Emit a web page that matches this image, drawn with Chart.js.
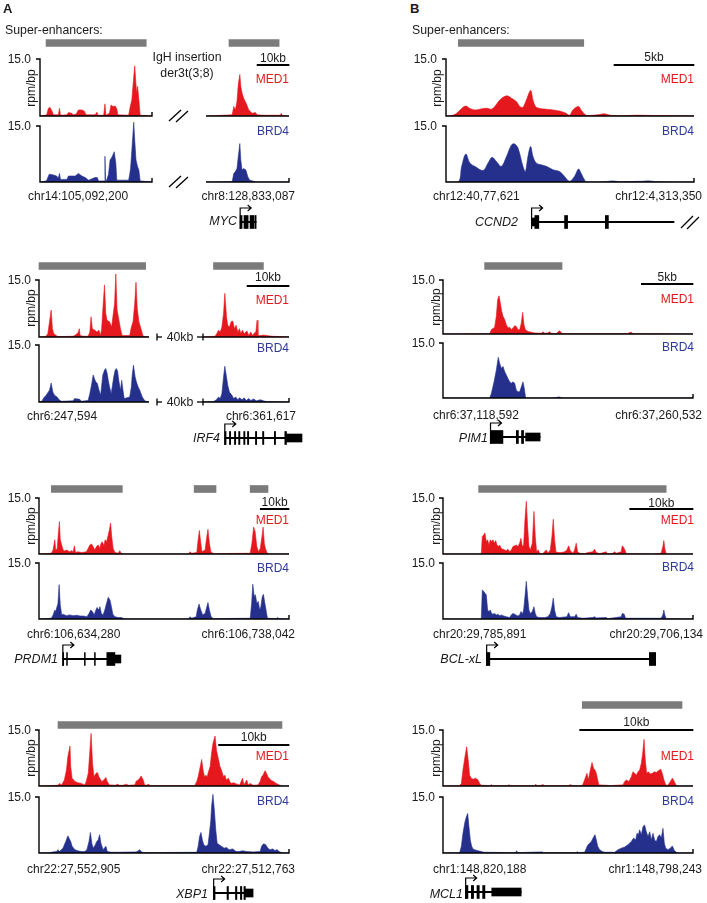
<!DOCTYPE html>
<html><head><meta charset="utf-8"><title>MED1 / BRD4 super-enhancer tracks</title>
<script src="https://cdn.jsdelivr.net/npm/chart.js@4.4.1/dist/chart.umd.min.js"></script>
<style>
html,body{margin:0;padding:0;background:#fff;width:707px;height:903px;overflow:hidden}
#fig{position:relative;width:707px;height:903px;overflow:hidden;font-family:Arial,"Liberation Sans",Helvetica,sans-serif;color:#1a1a1a}
#fig canvas{position:absolute;display:block}
.t{position:absolute;white-space:nowrap;line-height:1}
#fig svg{position:absolute;left:0;top:0}
</style></head><body><div id="fig"></div>
<script>
// ================= DATA =================
const trackMax = 15.0;
const yTickLabel = '15.0';
const yUnit = 'rpm/bp';
const seriesNames = ['MED1', 'BRD4'];
const panelLetters = ['A', 'B'];
const seLabel = 'Super-enhancers:';
const insertionLabel = ['IgH insertion', 'der3t(3;8)'];
const gapLabel = '40kb';
const chrLabels = [
  ['chr14:105,092,200', 'chr8:128,833,087'],
  ['chr6:247,594', 'chr6:361,617'],
  ['chr6:106,634,280', 'chr6:106,738,042'],
  ['chr22:27,552,905', 'chr22:27,512,763'],
  ['chr12:40,77,621', 'chr12:4,313,350'],
  ['chr6:37,118,592', 'chr6:37,260,532'],
  ['chr20:29,785,891', 'chr20:29,706,134'],
  ['chr1:148,820,188', 'chr1:148,798,243']
];
const geneNames = ['MYC', 'IRF4', 'PRDM1', 'XBP1', 'CCND2', 'PIM1', 'BCL-xL', 'MCL1'];
const scaleBarKb = [10, 10, 10, 10, 5, 5, 10, 10];

// window spans (kb) of each displayed segment
const mycSpans = [35, 26];
const irf4Spans = [26.2, 20.5];
const prdm1Span = 87;
const xbp1Span = 35.5;
const ccnd2Span = 15.5;
const pim1Span = 24.2;
const bclSpan = 39.5;
const mcl1Span = 22.06;

// ---- signal profiles: [position kb, rpm/bp] ----
const mycMed1L = [[0,0],[2.1,0.3],[2.6,2.0],[3.1,2.3],[3.7,1.4],[4.2,0.3],[5.7,0.3],[6.1,2.0],[6.4,0.2],[8.4,0.3],[8.9,0.9],[9.9,0.7],[10.4,0.3],[11.3,0.5],[12.0,1.6],[13.1,1.6],[13.8,1.3],[14.4,0.3],[17.2,0.3],[17.8,1.0],[18.1,0.2],[19.9,0.2],[20.3,3.2],[20.6,0.2],[21.7,0.7],[22.2,2.9],[22.8,2.5],[23.5,2.6],[24.0,1.9],[24.3,0.3],[27.7,0.2],[28.2,2.5],[28.7,4.2],[29.2,9.5],[29.6,13.2],[29.9,9.5],[30.2,6.0],[30.5,7.8],[30.9,4.2],[31.3,0.2],[35,0]];
const mycBrd4L = [[0,0],[2.0,0.3],[2.9,2.1],[4.2,1.9],[5.2,1.6],[5.7,1.0],[6.1,2.3],[6.4,0.7],[6.8,0.7],[8.4,0.7],[8.9,1.6],[11.0,1.6],[12.0,2.3],[13.1,1.6],[14.1,1.2],[15.2,0.5],[17.2,1.2],[17.9,1.2],[18.3,0.3],[20.1,0.3],[20.3,6.9],[20.5,0.3],[20.7,0.2],[21.4,2.0],[21.9,5.9],[22.5,6.7],[23.2,8.1],[23.7,5.0],[24.0,0.5],[27.7,0.5],[28.0,1.9],[28.3,3.6],[28.7,8.5],[29.3,16.0],[29.6,11.2],[30.0,5.9],[30.5,4.1],[30.9,3.2],[31.3,0.3],[35,0]];
const mycMed1R = [[0,0],[8.2,0.3],[8.7,2.5],[9.2,1.6],[9.7,3.8],[10.1,8.2],[10.6,10.9],[10.9,7.8],[11.3,6.0],[11.8,4.7],[12.3,3.8],[12.8,2.9],[13.4,1.6],[13.9,1.2],[14.4,0.7],[15.5,0.9],[16.0,0.3],[18.1,0.2],[23.3,0.2],[23.6,0.7],[23.9,0.1],[26,0]];
const mycBrd4R = [[0,0],[8.2,0.1],[8.7,2.3],[9.2,2.8],[9.7,3.6],[10.1,6.7],[10.6,10.3],[10.9,5.9],[11.3,3.2],[11.8,3.6],[12.5,3.2],[13.1,1.4],[13.7,0.5],[14.9,0.2],[15.5,0],[26,0]];

const irf4Med1L = [[0,0],[1.7,0.2],[2.1,0.9],[2.5,4.0],[2.9,7.1],[3.2,2.2],[3.5,0.9],[4.1,0.4],[4.5,0.1],[8.1,0.2],[8.5,0.4],[9.3,1.1],[9.6,2.2],[9.8,0.4],[10.5,0.2],[11.7,0.2],[12.1,1.3],[12.4,5.3],[12.7,2.2],[13.3,1.8],[13.8,1.3],[14.3,1.8],[14.6,0.4],[14.9,1.8],[15.2,7.1],[15.6,13.7],[15.9,6.2],[16.2,4.4],[16.8,4.0],[17.3,2.6],[17.6,5.3],[18.0,8.8],[18.3,16.6],[18.6,7.1],[18.9,5.3],[19.4,2.2],[19.8,0.4],[21.6,0.4],[22.0,2.6],[22.4,4.0],[22.8,8.8],[23.1,14.4],[23.4,7.5],[23.8,4.0],[24.4,1.8],[24.8,0.2],[26.2,0]];
const irf4Brd4L = [[0,0],[0.8,0.3],[1.0,0.9],[1.7,1.8],[2.5,3.1],[2.9,5.0],[3.3,2.6],[3.7,1.8],[4.3,1.3],[4.8,0.6],[5.3,0.2],[8.1,0.3],[8.5,0.9],[9.7,0.7],[10.1,0.2],[11.7,0.4],[12.1,2.2],[12.5,4.4],[12.9,7.1],[13.2,6.2],[13.5,5.3],[13.9,4.9],[14.3,3.1],[14.7,1.8],[14.8,3.1],[15.2,7.1],[15.6,8.4],[15.9,8.8],[16.2,7.7],[16.5,5.7],[16.8,4.0],[17.2,2.2],[17.5,4.4],[17.8,6.6],[18.1,8.2],[18.4,8.8],[18.7,8.2],[19.0,5.7],[19.4,3.1],[19.7,5.7],[20.0,3.1],[20.3,0.9],[21.6,1.3],[22.0,4.0],[22.2,7.1],[22.5,9.7],[22.9,6.6],[23.2,5.3],[23.6,4.0],[24.0,3.1],[24.6,1.3],[25.2,0.3],[26.2,0]];
const irf4Med1R = [[0,0],[2.9,0.2],[3.3,0.9],[3.7,1.8],[4.1,1.3],[4.5,2.6],[4.9,6.2],[5.2,11.5],[5.6,5.3],[5.9,3.1],[6.3,2.6],[6.7,4.0],[7.1,4.2],[7.5,2.2],[7.9,3.1],[8.3,1.3],[8.7,2.2],[9.0,0.9],[9.4,1.8],[9.8,0.9],[10.5,1.6],[10.9,0.4],[11.4,1.3],[11.8,0.4],[12.3,1.1],[12.6,1.3],[12.9,4.4],[13.1,0.4],[13.7,0.4],[14.4,0.5],[15.2,0.4],[16.4,0.2],[20.5,0]];
const irf4Brd4R = [[0,0],[2.5,0.1],[3.2,0.6],[3.7,1.3],[4.1,0.9],[4.5,2.2],[4.9,6.6],[5.2,9.4],[5.6,6.6],[5.9,4.4],[6.3,2.6],[6.9,1.8],[7.3,0.9],[7.8,1.3],[8.3,0.6],[8.7,1.1],[9.3,0.6],[9.8,1.1],[10.3,0.4],[10.9,0.9],[11.4,0.4],[12.1,0.8],[12.7,0.3],[13.7,0.6],[14.4,0.3],[15.2,0.1],[20.5,0]];

const prdm1Med1 = [[0,0],[4.3,0.2],[4.9,1.1],[5.5,3.8],[5.8,1.1],[6.3,1.3],[6.7,5.1],[7.1,8.7],[7.4,3.8],[7.9,2.4],[8.4,1.1],[9.0,0.8],[9.5,1.1],[10.7,0.6],[11.3,0.9],[11.9,0.6],[12.3,2.2],[12.7,0.4],[13.6,0.6],[14.8,0.4],[16.5,0.6],[17.1,1.5],[17.7,2.4],[18.3,2.7],[18.8,2.0],[19.4,1.1],[20.0,2.0],[20.6,2.4],[21.2,1.5],[21.5,2.7],[22.0,3.3],[22.6,2.2],[23.0,3.8],[23.5,3.3],[24.1,5.1],[24.5,6.5],[24.9,8.3],[25.3,4.7],[25.8,1.5],[26.4,0.4],[27.6,0.2],[28.1,0.9],[28.6,0.2],[29.3,0],[52.0,0],[52.6,0.6],[53.1,0.2],[54.9,0.4],[55.3,3.3],[55.8,6.3],[56.3,2.9],[56.7,0.6],[57.8,1.1],[58.4,4.7],[58.8,6.6],[59.3,2.9],[59.8,0.6],[60.7,0.1],[73.5,0.2],[74.1,2.9],[74.7,7.2],[75.2,6.0],[75.8,2.0],[76.4,0.6],[77.0,1.5],[77.6,4.7],[78.0,7.2],[78.4,2.9],[78.8,1.5],[79.3,0.4],[79.9,0],[87,0]];
const prdm1Brd4 = [[0,0],[4.3,0.2],[4.9,1.1],[5.5,2.4],[5.8,2.0],[6.6,4.2],[7.0,9.2],[7.4,3.8],[7.9,1.1],[8.4,1.3],[9.5,0.9],[10.7,1.1],[11.9,0.9],[13.1,1.0],[14.3,0.8],[15.5,0.8],[16.7,0.6],[17.4,1.5],[18.0,2.4],[18.6,2.0],[19.2,1.1],[19.8,2.4],[20.2,3.1],[20.8,2.4],[21.2,3.3],[21.7,1.5],[22.3,1.1],[22.9,2.4],[23.5,4.2],[24.1,5.8],[24.7,5.1],[25.2,3.3],[25.7,1.3],[26.4,0.6],[27.6,0.4],[28.7,0.4],[29.5,0.1],[30,0],[52.0,0],[52.6,0.6],[53.1,0.2],[54.7,0.6],[55.1,2.4],[55.7,4.0],[56.3,2.4],[57.0,1.1],[57.8,1.5],[58.4,3.3],[58.8,4.4],[59.3,2.4],[59.9,0.6],[60.7,0.1],[73.5,0.2],[74.0,4.2],[74.4,9.3],[74.9,6.0],[75.3,6.5],[75.8,4.2],[76.3,4.7],[76.8,2.4],[77.2,3.3],[77.7,6.0],[78.1,6.6],[78.6,4.2],[79.1,2.0],[79.5,0.2],[82.6,0.1],[83.1,0.4],[83.5,0.1],[87,0]];

const xbp1Med1 = [[0,0],[2.7,0.2],[2.9,0.7],[3.2,0.3],[3.6,1.6],[3.9,4.3],[4.1,7.9],[4.4,10.7],[4.5,5.2],[4.7,2.1],[5.1,1.2],[5.5,0.9],[6.0,0.7],[6.5,0.3],[6.7,1.2],[7.0,3.4],[7.2,8.8],[7.4,14.1],[7.6,6.1],[7.8,2.5],[8.1,3.4],[8.3,3.6],[8.5,2.5],[8.9,1.2],[9.2,1.6],[9.5,2.3],[9.7,1.2],[10.0,0.3],[10.8,0.2],[11.2,0.5],[11.4,0.2],[11.9,0.2],[12.4,0.5],[12.7,0.2],[13.6,0.3],[13.8,1.3],[14.1,1.6],[14.3,2.1],[14.5,2.7],[14.8,1.6],[15.0,0.3],[15.3,0.2],[15.5,0.5],[15.6,0.1],[22.1,0.1],[22.4,1.2],[22.6,2.5],[22.8,4.3],[23.1,7.1],[23.3,4.3],[23.5,2.5],[23.7,2.9],[23.9,2.5],[24.0,3.4],[24.3,5.2],[24.5,8.8],[24.7,11.4],[25.0,13.4],[25.2,9.6],[25.5,7.0],[25.7,5.2],[25.9,4.3],[26.2,2.5],[26.4,2.9],[26.6,1.6],[26.9,2.1],[27.1,1.2],[27.3,0.7],[27.6,0.9],[28.1,0.5],[28.5,0.3],[28.9,2.1],[29.1,0.3],[29.5,1.6],[29.7,0.3],[30.0,0.7],[30.4,0.2],[31.1,0.3],[31.4,1.2],[31.6,2.5],[31.8,2.9],[32.1,4.1],[32.3,3.4],[32.5,2.5],[32.9,1.6],[33.3,1.2],[33.7,0.7],[34.2,0.2],[34.5,0],[35.5,0]];
const xbp1Brd4 = [[0,0],[1.5,0.1],[2.0,0.3],[2.5,0.4],[2.7,0.9],[2.9,0.4],[3.4,1.3],[3.8,3.1],[4.1,4.6],[4.5,3.1],[4.7,1.8],[5.1,0.9],[5.5,0.6],[6.0,0.4],[6.5,0.4],[6.8,0.9],[7.1,3.1],[7.3,5.5],[7.5,2.6],[7.7,1.3],[8.0,2.2],[8.2,3.1],[8.4,3.5],[8.6,4.9],[8.8,2.6],[9.1,0.9],[9.5,1.8],[9.7,0.4],[10.3,0.2],[11.2,0.2],[13.8,0.3],[14.1,0.6],[14.3,0.9],[14.5,0.4],[14.8,0.1],[22.4,0.2],[22.6,1.8],[22.8,4.4],[23.0,5.5],[23.2,3.5],[23.4,2.2],[23.7,1.8],[24.0,2.2],[24.2,5.3],[24.4,8.8],[24.5,12.4],[24.7,15.7],[24.9,11.5],[25.1,6.2],[25.3,2.6],[25.6,2.2],[25.9,1.8],[26.3,1.3],[26.6,1.5],[27.0,0.9],[27.5,1.1],[28.0,0.4],[28.4,0.4],[28.9,0.6],[29.5,0.4],[30.4,0.3],[31.4,0.4],[31.6,1.8],[31.9,2.5],[32.2,2.2],[32.5,1.3],[32.8,0.9],[33.2,1.1],[33.5,0.7],[33.8,0.9],[34.2,0.3],[34.5,0.1],[35.5,0]];

const ccnd2Med1 = [[0,0],[0.35,0.1],[0.66,0.7],[0.98,2.0],[1.24,2.6],[1.49,2.0],[1.8,1.6],[2.12,1.8],[2.37,2.0],[2.63,2.0],[2.84,1.8],[3.05,2.5],[3.36,4.2],[3.78,5.3],[4.09,4.7],[4.4,3.8],[4.61,2.5],[4.81,2.3],[5.02,4.2],[5.29,6.7],[5.44,4.2],[5.6,2.5],[5.85,2.0],[6.27,1.8],[6.68,1.6],[7.1,1.3],[7.51,0.7],[7.72,0.2],[7.93,1.6],[8.13,2.3],[8.3,2.5],[8.44,1.6],[8.71,0.3],[8.86,0.1],[9.17,0.2],[9.59,0.4],[9.9,0.6],[10.17,0.3],[10.41,0.1],[11.24,0.1],[11.87,0.2],[13.32,0.1],[15.5,0]];
const ccnd2Brd4 = [[0,0],[0.77,0],[0.98,4.2],[1.24,7.5],[1.49,5.1],[1.8,4.2],[2.32,3.1],[2.63,5.1],[2.88,6.6],[3.15,5.5],[3.46,4.2],[3.78,6.8],[4.09,9.9],[4.29,10.2],[4.5,9.1],[4.81,4.2],[4.96,2.8],[5.12,6.8],[5.29,9.5],[5.44,6.8],[5.64,5.1],[5.95,4.6],[6.27,4.2],[6.68,3.3],[7.1,2.8],[7.41,1.5],[7.72,0.2],[8.03,1.5],[8.28,3.5],[8.44,2.4],[8.71,0.2],[8.86,0],[10.0,0.1],[10.41,0.3],[10.83,0.1],[12.28,0.2],[12.7,0.3],[13.11,0.1],[15.5,0]];

const pim1Med1 = [[0,0],[4.52,0.1],[4.68,1.2],[5.0,1.9],[5.16,4.9],[5.29,9.5],[5.42,10.6],[5.55,8.6],[5.68,6.3],[5.81,4.9],[5.97,4.0],[6.13,2.6],[6.29,1.7],[6.45,1.9],[6.61,1.2],[6.77,1.7],[6.94,2.3],[7.1,2.1],[7.26,1.2],[7.42,1.2],[7.58,3.0],[7.71,6.0],[7.84,2.6],[7.97,1.2],[8.23,0.7],[8.55,0.5],[8.87,0.3],[9.52,0.2],[9.68,0.6],[9.84,0.2],[10.16,0.3],[10.32,0.6],[10.48,0.2],[10.97,0.1],[11.13,0.6],[11.29,0.9],[11.48,0.3],[11.61,0.1],[17.9,0.1],[18.06,0.4],[18.23,0.5],[18.39,0.1],[24.2,0]];
const pim1Brd4 = [[0,0],[4.52,0],[4.68,1.2],[4.94,4.4],[5.16,7.6],[5.35,11.1],[5.48,9.5],[5.65,8.1],[5.81,8.6],[5.97,7.2],[6.13,6.3],[6.29,5.3],[6.45,4.4],[6.61,4.0],[6.77,4.4],[6.94,4.0],[7.1,2.1],[7.26,1.7],[7.42,1.7],[7.58,3.0],[7.74,4.4],[7.87,2.6],[8.0,0],[10.48,0],[10.97,0.1],[11.19,0.3],[11.48,0.1],[11.61,0],[24.2,0]];

const bclMed1 = [[0,0],[6.05,0],[6.21,4.7],[6.42,5.1],[6.63,5.6],[6.84,3.3],[7.05,3.8],[7.26,2.4],[7.47,3.8],[7.68,3.3],[7.89,3.8],[8.11,2.9],[8.32,3.6],[8.53,2.4],[8.74,2.0],[8.95,2.4],[9.21,1.5],[9.47,1.3],[9.74,1.1],[10.0,0.9],[10.26,1.3],[10.53,0.6],[10.79,1.1],[11.05,2.0],[11.32,2.2],[11.58,2.4],[11.84,2.0],[12.11,2.9],[12.32,4.2],[12.53,2.0],[12.74,2.4],[12.95,9.2],[13.16,14.1],[13.37,7.4],[13.58,2.0],[13.79,1.1],[14.11,2.9],[14.37,11.4],[14.58,4.7],[14.79,0.6],[15.05,1.1],[15.26,0.2],[15.68,0],[16.05,0.6],[16.32,1.1],[16.58,0.2],[16.95,1.1],[17.21,4.7],[17.42,9.3],[17.63,3.8],[17.84,0.6],[18.16,0.4],[18.68,0.4],[19.21,0.6],[19.58,1.1],[19.84,2.2],[20.11,0.9],[20.53,0.2],[20.79,1.1],[21.05,2.9],[21.26,0.6],[21.58,0.2],[22.37,0.1],[22.89,0.4],[23.68,0.6],[23.95,1.3],[24.21,0.4],[24.74,0.1],[25.79,0.6],[25.95,0],[26.84,0.2],[27.11,0.6],[27.37,0.2],[28.16,0.6],[28.32,2.2],[28.53,1.8],[28.74,1.1],[28.95,0.1],[33.16,0],[34.47,0.2],[34.74,2.0],[34.89,3.6],[35.05,1.5],[35.26,0],[39.5,0]];
const bclBrd4 = [[0,0],[6.05,0],[6.21,7.8],[6.42,7.4],[6.63,6.9],[6.84,6.5],[7.05,2.4],[7.26,2.0],[7.47,2.4],[7.68,1.5],[7.89,1.3],[8.16,1.5],[8.42,1.1],[8.68,1.3],[8.95,0.9],[9.21,1.1],[9.47,0.9],[10.0,0.6],[10.53,0.4],[10.79,1.1],[11.05,1.5],[11.32,1.3],[11.58,1.0],[11.84,0.8],[12.11,1.1],[12.32,2.0],[12.53,1.3],[12.74,2.4],[12.95,6.0],[13.16,10.1],[13.37,6.0],[13.58,2.4],[13.79,1.5],[14.11,2.0],[14.37,3.3],[14.58,1.5],[14.79,0.6],[15.26,0.4],[16.05,0.4],[16.58,0.6],[16.95,1.5],[17.21,3.3],[17.42,5.6],[17.63,2.4],[17.89,0.6],[18.42,0.4],[19.58,0.6],[19.84,1.7],[20.11,0.6],[20.79,0.6],[21.05,1.3],[21.26,0.4],[22.11,0.2],[23.68,0.4],[23.95,0.6],[24.21,0.3],[25.79,0.4],[26.05,0.1],[28.16,0.6],[28.32,1.5],[28.63,1.3],[28.84,0.2],[34.47,0.2],[34.74,1.1],[34.89,2.4],[35.05,1.1],[35.26,0.1],[39.5,0]];

const mcl1Med1 = [[0,0],[1.47,0.1],[1.62,0.7],[1.76,4.3],[1.94,7.9],[2.09,10.5],[2.24,6.5],[2.35,2.9],[2.5,2.1],[2.65,1.8],[2.88,2.1],[3.09,1.6],[3.24,0.7],[3.38,0.2],[4.18,0.1],[4.26,0.4],[4.35,0.1],[5.74,0.1],[5.82,0.4],[5.91,0.1],[8.09,0.1],[8.18,0.5],[8.29,0.1],[8.68,0.2],[8.82,0.4],[8.97,0.1],[11.12,0.1],[11.21,0.4],[11.29,0.1],[12.29,0.1],[12.44,1.2],[12.59,2.5],[12.71,3.4],[12.82,1.6],[13.0,4.3],[13.15,6.3],[13.29,4.7],[13.41,4.3],[13.53,3.4],[13.65,1.6],[13.76,0.3],[14.41,0.2],[14.71,0.1],[15.88,0.3],[16.03,1.2],[16.18,1.6],[16.41,1.2],[16.62,2.5],[16.76,3.8],[16.91,3.4],[17.06,2.9],[17.21,3.8],[17.35,4.3],[17.5,6.1],[17.62,8.8],[17.74,12.5],[17.85,7.0],[17.97,3.4],[18.12,3.8],[18.29,3.2],[18.47,3.4],[18.65,3.8],[18.82,3.6],[19.0,4.1],[19.21,4.5],[19.35,3.4],[19.5,1.6],[19.65,0.3],[19.85,0.2],[20.06,1.2],[20.24,2.1],[20.41,1.2],[20.59,0.1],[20.74,0],[22.06,0]];
const mcl1Brd4 = [[0,0],[1.47,0.1],[1.62,1.8],[1.76,5.3],[1.94,8.4],[2.06,9.7],[2.18,10.6],[2.29,7.1],[2.41,3.5],[2.53,1.8],[2.65,1.1],[2.79,0.9],[3.09,0.6],[3.38,0.4],[3.59,0.2],[6.41,0.1],[6.5,0.6],[6.59,0.1],[8.76,0.3],[8.85,0.1],[11.76,0.1],[11.85,0.4],[11.94,0.1],[12.5,0.2],[12.65,1.3],[12.79,2.2],[12.94,2.6],[13.09,3.1],[13.24,4.0],[13.41,4.9],[13.53,3.5],[13.65,1.8],[13.82,0.9],[14.06,0.4],[14.26,0.2],[15.15,0.2],[15.44,0.9],[15.74,1.3],[16.03,1.6],[16.32,2.2],[16.62,3.1],[16.82,4.0],[17.0,3.5],[17.12,5.3],[17.24,4.9],[17.35,6.2],[17.5,4.9],[17.65,7.1],[17.79,7.5],[17.94,5.7],[18.09,4.4],[18.24,5.7],[18.38,3.5],[18.53,5.3],[18.68,3.4],[18.82,3.1],[18.97,4.4],[19.12,4.9],[19.26,4.0],[19.41,6.6],[19.53,2.6],[19.65,1.3],[19.85,0.9],[20.06,1.3],[20.24,1.9],[20.41,0.7],[20.59,0.2],[20.74,0],[22.06,0]];

// ---- super-enhancer intervals (kb) ----
const mycSeL = [[1.9, 33.2]];
const mycSeR = [[7.2, 22.9]];
const irf4SeL = [[0, 25.4]];
const irf4SeR = [[2.5, 14.4]];
const prdm1Se = [[4.3, 29.0], [54.0, 61.6], [73.5, 79.7]];
const xbp1Se = [[2.7, 34.5]];
const ccnd2Se = [[0.77, 8.61]];
const pim1Se = [[4.03, 11.52]];
const bclSe = [[5.63, 35.26]];
const mcl1Se = [[12.29, 21.09]];

// ---- gene models: TSS, intron span, exons [start, end, 'c' coding | 'u' UTR] (kb) ----
const mycTss = 10.7, mycIntron = [10.7, 15.7];
const mycExons = [[10.7,11.3,'c'],[11.9,13.2,'c'],[13.8,15.0,'c'],[15.3,15.7,'c']];
const irf4Tss = 5.2, irf4Intron = [5.2, 19.5];
const irf4Exons = [[5.2,5.5,'c'],[6.3,6.6,'c'],[7.5,7.8,'c'],[8.5,8.8,'c'],[9.7,10.0,'c'],[10.6,10.9,'c'],[12.5,12.8,'c'],[14.2,14.5,'c'],[17.0,17.3,'c'],[19.5,19.9,'c'],[19.9,23.6,'u']];
const prdm1Tss = 8.3, prdm1Intron = [8.3, 23.6];
const prdm1Exons = [[8.3,8.6,'c'],[9.6,9.9,'c'],[15.8,16.1,'c'],[19.3,19.6,'c'],[23.6,26.4,'c'],[26.4,28.5,'u']];
const xbp1Tss = 24.8, xbp1Intron = [24.8, 29.3];
const xbp1Exons = [[24.8,25.0,'c'],[26.7,26.9,'c'],[27.9,28.1,'c'],[28.6,28.8,'c'],[29.1,29.3,'c'],[29.3,30.4,'u']];
const ccnd2Tss = 5.35, ccnd2Intron = [5.35, 14.25];
const ccnd2Exons = [[5.35,5.55,'u'],[5.55,5.8,'c'],[7.41,7.6,'c'],[9.96,10.15,'c']];
const pim1Tss = 4.6, pim1Intron = [4.6, 9.4];
const pim1Exons = [[4.6,5.8,'c'],[7.1,7.3,'c'],[7.6,7.8,'c'],[8.0,9.4,'u']];
const bclTss = 6.9, bclIntron = [6.9, 33.6];
const bclExons = [[6.9,7.4,'c'],[32.6,33.6,'c']];
const mcl1Tss = 2.0, mcl1Intron = [2.0, 6.9];
const mcl1Exons = [[2.0,2.2,'c'],[2.5,2.7,'c'],[3.0,3.2,'c'],[3.5,3.7,'c'],[4.3,6.9,'u']];

// ================= RENDERING =================
const RED = 'rgb(229,24,30)', BLUE = 'rgb(37,48,140)', BLUE_T = 'rgb(46,58,152)', GREY = '#7b7b7b';
const fig = document.getElementById('fig');

function canvasAt(x, y, w, h) {
  const c = document.createElement('canvas');
  c.width = w; c.height = h;
  c.style.left = x + 'px'; c.style.top = y + 'px';
  c.style.width = w + 'px'; c.style.height = h + 'px';
  fig.appendChild(c);
  return c;
}
function T(s, x, y, o) {
  o = o || {};
  const d = document.createElement('div');
  d.className = 't'; d.textContent = s;
  d.style.fontSize = (o.size || 12) + 'px';
  d.style.left = x + 'px'; d.style.top = y + 'px';
  if (o.color) d.style.color = o.color;
  if (o.bold) d.style.fontWeight = 'bold';
  if (o.italic) d.style.fontStyle = 'italic';
  const tx = o.align === 'r' ? '-100%' : (o.align === 'c' || o.rot) ? '-50%' : '0';
  d.style.transform = 'translate(' + tx + ',-50%)' + (o.rot ? ' rotate(-90deg)' : '');
  fig.appendChild(d);
}

const axesPlugin = {
  id: 'trackAxes',
  afterDatasetsDraw(chart, args, o) {
    const ctx = chart.ctx, xs = chart.scales.x, ys = chart.scales.y;
    const x0 = xs.getPixelForValue(xs.min), x1 = xs.getPixelForValue(xs.max);
    const yb = ys.getPixelForValue(0), yt = ys.getPixelForValue(trackMax);
    ctx.save();
    ctx.strokeStyle = '#000'; ctx.lineWidth = 1.4;
    ctx.beginPath();
    ctx.moveTo(x0, yb); ctx.lineTo(x1, yb);
    if (o.yAxis) { ctx.moveTo(x0, yb + 0.7); ctx.lineTo(x0, yt); ctx.moveTo(x0 - 4, yt); ctx.lineTo(x0 + 0.7, yt); }
    if (o.endTick) { ctx.moveTo(x1, yb + 0.7); ctx.lineTo(x1, yb - 4); }
    ctx.stroke();
    ctx.restore();
  }
};
const tssPlugin = {
  id: 'tss',
  afterDatasetsDraw(chart, args, o) {
    if (o.at === undefined || o.at === null) return;
    const ctx = chart.ctx;
    const x = chart.scales.x.getPixelForValue(o.at), yc = chart.scales.y.getPixelForValue(0);
    ctx.save();
    ctx.strokeStyle = '#000'; ctx.lineWidth = 1.2;
    ctx.beginPath();
    ctx.moveTo(x, yc + 7); ctx.lineTo(x, yc - 14); ctx.lineTo(x + 11, yc - 14);
    ctx.moveTo(x + 7.5, yc - 17); ctx.lineTo(x + 11, yc - 14); ctx.lineTo(x + 7.5, yc - 11);
    ctx.stroke();
    ctx.restore();
  }
};

function track(seg, span, top, bot, pts, color, o, tension) {
  const padL = 6, padR = 3, extraT = 16, padB = 3;
  const Ttop = top - extraT;
  const cv = canvasAt(seg.l - padL, Ttop, seg.r - seg.l + padL + padR, bot - Ttop + padB);
  new Chart(cv, {
    type: 'line',
    data: { datasets: [{
      data: pts.map(p => ({ x: p[0], y: p[1] })),
      borderColor: color, backgroundColor: color, borderWidth: 0.6,
      fill: 'origin', pointRadius: 0, pointHoverRadius: 0, tension: tension || 0
    }] },
    options: {
      responsive: false, animation: false, events: [],
      layout: { padding: { left: padL, right: padR, top: 0, bottom: padB } },
      scales: {
        x: { type: 'linear', min: 0, max: span, display: false },
        y: { type: 'linear', min: 0, max: trackMax * (bot - Ttop) / (bot - top), display: false }
      },
      plugins: { legend: { display: false }, tooltip: { enabled: false }, trackAxes: o }
    },
    plugins: [axesPlugin]
  });
}
function ivSet(iv, thick, color) {
  return { data: [[iv[0], iv[1]]], backgroundColor: color, borderWidth: 0, barThickness: thick, grouped: false };
}
function rowChart(seg, span, yc, h, sets, tss) {
  const ppk = (seg.r - seg.l) / span, X0 = seg.l - 90, X1 = seg.r + 25;
  const cv = canvasAt(X0, Math.round(yc - h / 2), X1 - X0, h);
  new Chart(cv, {
    type: 'bar',
    data: { labels: [''], datasets: sets },
    options: {
      indexAxis: 'y', responsive: false, animation: false, events: [],
      layout: { padding: 0 },
      scales: {
        x: { type: 'linear', min: (X0 - seg.l) / ppk, max: (X1 - seg.l) / ppk, display: false },
        y: { display: false }
      },
      plugins: { legend: { display: false }, tooltip: { enabled: false }, tss: { at: tss } }
    },
    plugins: [tssPlugin]
  });
}

// layout of the 8 panels (pixel geometry only)
const panels = [
  { segs: [{ l: 40, r: 152 }, { l: 206, r: 289 }], spans: mycSpans, med: [59, 116], brd: [126, 182],
    medData: [mycMed1L, mycMed1R], brdData: [mycBrd4L, mycBrd4R], se: [mycSeL, mycSeR], seY: 42.5, scY: 65, scSeg: 1,
    gene: { seg: 1, y: 222, tss: mycTss, intron: mycIntron, exons: mycExons }, endTicks: [[true, true], [false, true]],
    lab: { yx: 31, rpm: [31, 88], med: [289, 79], brd: [289, 131], scY: 58, chrY: 196, chrL: 28, chrR: 295, gene: [237, 221] } },
  { segs: [{ l: 39, r: 149 }, { l: 203, r: 289 }], spans: irf4Spans, med: [280, 337], brd: [345, 402],
    medData: [irf4Med1L, irf4Med1R], brdData: [irf4Brd4L, irf4Brd4R], se: [irf4SeL, irf4SeR], seY: 265.5, scY: 286, scSeg: 1,
    gene: { seg: 1, y: 438, tss: irf4Tss, intron: irf4Intron, exons: irf4Exons }, endTicks: [[false, false], [false, true]],
    lab: { yx: 31, rpm: [31, 308], med: [289, 299.5], brd: [289, 348], scY: 277, chrY: 416, chrL: 27, chrR: 296, gene: [220, 438] } },
  { segs: [{ l: 39, r: 289 }], spans: [prdm1Span], med: [498, 554], brd: [563, 619],
    medData: [prdm1Med1], brdData: [prdm1Brd4], se: [prdm1Se], seY: 489, scY: 509, scSeg: 0,
    gene: { seg: 0, y: 659, tss: prdm1Tss, intron: prdm1Intron, exons: prdm1Exons }, endTicks: [[false, true]],
    lab: { yx: 31, rpm: [31, 526], med: [289, 519.5], brd: [289, 567.5], scY: 502, chrY: 634, chrL: 27, chrR: 295, gene: [58, 659] } },
  { segs: [{ l: 39, r: 289 }], spans: [xbp1Span], med: [730, 786], brd: [797, 853],
    medData: [xbp1Med1], brdData: [xbp1Brd4], se: [xbp1Se], seY: 724.5, scY: 745, scSeg: 0,
    gene: { seg: 0, y: 893, tss: xbp1Tss, intron: xbp1Intron, exons: xbp1Exons }, endTicks: [[false, true]],
    lab: { yx: 31, rpm: [31, 758], med: [289, 756], brd: [289, 801], scY: 737, chrY: 869, chrL: 27, chrR: 295, gene: [208, 894] } },
  { segs: [{ l: 446, r: 694 }], spans: [ccnd2Span], med: [59, 116], brd: [126, 182], tension: 0.35,
    medData: [ccnd2Med1], brdData: [ccnd2Brd4], se: [ccnd2Se], seY: 42.5, scY: 65, scSeg: 0,
    gene: { seg: 0, y: 222, tss: ccnd2Tss, intron: ccnd2Intron, exons: ccnd2Exons }, endTicks: [[false, true]],
    lab: { yx: 437, rpm: [437, 88], med: [694, 79], brd: [694, 131], scY: 57, chrY: 196, chrL: 433, chrR: 702, gene: [518, 222] } },
  { segs: [{ l: 443, r: 693 }], spans: [pim1Span], med: [280, 334], brd: [343, 398],
    medData: [pim1Med1], brdData: [pim1Brd4], se: [pim1Se], seY: 265.5, scY: 284, scSeg: 0,
    gene: { seg: 0, y: 437, tss: pim1Tss, intron: pim1Intron, exons: pim1Exons }, endTicks: [[false, true]],
    lab: { yx: 435, rpm: [436, 307], med: [694, 299], brd: [694, 347], scY: 277, chrY: 415, chrL: 433, chrR: 702, gene: [488, 438] } },
  { segs: [{ l: 443, r: 693 }], spans: [bclSpan], med: [498, 554], brd: [563, 619],
    medData: [bclMed1], brdData: [bclBrd4], se: [bclSe], seY: 489, scY: 509, scSeg: 0,
    gene: { seg: 0, y: 659, tss: bclTss, intron: bclIntron, exons: bclExons }, endTicks: [[false, true]],
    lab: { yx: 435, rpm: [436, 526], med: [694, 520], brd: [694, 567], scY: 502.5, chrY: 634, chrL: 433, chrR: 703, gene: [482, 659] } },
  { segs: [{ l: 443, r: 693 }], spans: [mcl1Span], med: [730, 786], brd: [797, 853],
    medData: [mcl1Med1], brdData: [mcl1Brd4], se: [mcl1Se], seY: 704.5, scY: 730, scSeg: 0,
    gene: { seg: 0, y: 892, tss: mcl1Tss, intron: mcl1Intron, exons: mcl1Exons }, endTicks: [[false, true]],
    lab: { yx: 435, rpm: [436, 758], med: [694, 756], brd: [694, 801], scY: 722, chrY: 869, chrL: 433, chrR: 702, gene: [463, 894] } }
];

panels.forEach((p, pi) => {
  p.segs.forEach((seg, si) => {
    const span = p.spans[si];
    const yAx = si === 0;
    track(seg, span, p.med[0], p.med[1], p.medData[si], RED, { yAxis: yAx, endTick: p.endTicks[si][0] }, p.tension);
    track(seg, span, p.brd[0], p.brd[1], p.brdData[si], BLUE, { yAxis: yAx, endTick: p.endTicks[si][1] }, p.tension);
    // super-enhancer bars
    rowChart(seg, span, p.seY, 20, p.se[si].map(iv => ivSet(iv, 7, GREY)), null);
    // scale bar
    if (si === p.scSeg) {
      const kb = scaleBarKb[pi];
      rowChart(seg, span, p.scY, 10, [ivSet([span - kb, span], 1.4, '#000')], null);
      const ppk = (seg.r - seg.l) / span;
      T(kb + 'kb', seg.l + (span - kb / 2) * ppk, p.lab.scY, { align: 'c' });
    }
    // gene model
    if (si === p.gene.seg) {
      const g = p.gene;
      const sets = [ivSet(g.intron, 1.2, '#000')].concat(g.exons.map(e => ivSet([e[0], e[1]], e[2] === 'u' ? 8 : 13, '#000')));
      rowChart(seg, span, g.y, 44, sets, g.tss);
    }
  });
  const L = p.lab;
  T(yTickLabel, L.yx, p.med[0], { align: 'r' });
  T(yTickLabel, L.yx, p.brd[0], { align: 'r' });
  T(yUnit, L.rpm[0], L.rpm[1], { rot: true });
  T(seriesNames[0], L.med[0], L.med[1], { align: 'r', color: RED });
  T(seriesNames[1], L.brd[0], L.brd[1], { align: 'r', color: BLUE_T });
  T(chrLabels[pi][0], L.chrL, L.chrY, {});
  T(chrLabels[pi][1], L.chrR, L.chrY, { align: 'r' });
  T(geneNames[pi], L.gene[0], L.gene[1], { align: 'r', italic: true, size: 12.5 });
});

// headers
T(panelLetters[0], 3, 8, { bold: true, size: 13 });
T(panelLetters[1], 410, 8, { bold: true, size: 13 });
T(seLabel, 5, 30, { size: 12.3 });
T(seLabel, 412, 30, { size: 12.3 });
T(insertionLabel[0], 187, 57, { align: 'c', size: 12.3 });
T(insertionLabel[1], 187, 73, { align: 'c', size: 12.3 });

// break marks and gap brackets
const NS = 'http://www.w3.org/2000/svg';
const svg = document.createElementNS(NS, 'svg');
svg.setAttribute('width', 707); svg.setAttribute('height', 903);
function ln(x1, y1, x2, y2) {
  const l = document.createElementNS(NS, 'line');
  l.setAttribute('x1', x1); l.setAttribute('y1', y1); l.setAttribute('x2', x2); l.setAttribute('y2', y2);
  l.setAttribute('stroke', '#000'); l.setAttribute('stroke-width', 1.3);
  svg.appendChild(l);
}
[116, 182].forEach(yb => { ln(169, yb + 5, 181, yb - 6); ln(176, yb + 6, 188, yb - 5); });
ln(681, 228, 693, 216); ln(687, 229, 699, 217);
[337, 402].forEach(yb => {
  ln(157, yb - 3.5, 157, yb + 3.5); ln(157, yb, 162, yb);
  ln(197, yb, 203, yb); ln(203, yb - 3.5, 203, yb + 3.5);
  T(gapLabel, 180, yb, { align: 'c', size: 12.3 });
});
fig.appendChild(svg);
</script></body></html>
